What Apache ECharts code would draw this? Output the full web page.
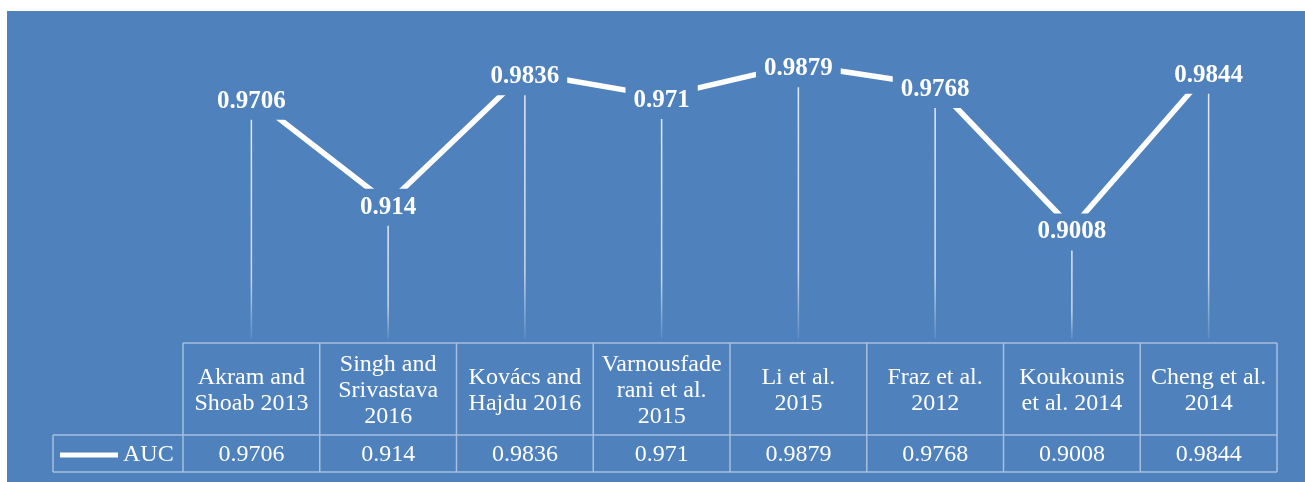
<!DOCTYPE html>
<html>
<head>
<meta charset="utf-8">
<script src="https://cdn.jsdelivr.net/npm/echarts@6/dist/echarts.min.js"></script>
<style>
  html, body { margin: 0; padding: 0; background: #ffffff; }
  #chart { width: 1305px; height: 482px; }
</style>
</head>
<body>
<div id="chart"></div>
<script>
// Studies compared (header row of the data table)
const categories = [
  'Akram and\nShoab 2013',
  'Singh and\nSrivastava\n2016',
  'Kovács and\nHajdu 2016',
  'Varnousfade\nrani et al.\n2015',
  'Li et al.\n2015',
  'Fraz et al.\n2012',
  'Koukounis\net al. 2014',
  'Cheng et al.\n2014'
];
// AUC reported by each study
const aucValues = [0.9706, 0.914, 0.9836, 0.971, 0.9879, 0.9768, 0.9008, 0.9844];
const seriesName = 'AUC';

// Layout constants
const BG = '#4f81bd';
const BORDER = '#a6bfe0';
const FONT = '"Liberation Serif", "Times New Roman", serif';
const GRID_LEFT = 183, GRID_RIGHT = 28, GRID_TOP = 42, GRID_HEIGHT = 300;
const W = 1305;
const TABLE_TOP = 343, ROW_SPLIT = 435, TABLE_BOTTOM = 472, LEGEND_LEFT = 53;
const Y_MIN = 0.84, Y_MAX = 1.0;

const chart = echarts.init(document.getElementById('chart'), null, { renderer: 'canvas' });

// Table border lines
const gridRight = W - GRID_RIGHT;
const band = (gridRight - GRID_LEFT) / categories.length;
const border = [];
const hline = (x1, x2, y) => border.push({
  type: 'line', z: 1, silent: true,
  shape: { x1: x1, y1: y, x2: x2, y2: y },
  style: { stroke: BORDER, lineWidth: 1.5 }
});
const vline = (x, y1, y2) => border.push({
  type: 'line', z: 1, silent: true,
  shape: { x1: x, y1: y1, x2: x, y2: y2 },
  style: { stroke: BORDER, lineWidth: 1.5 }
});
hline(GRID_LEFT, gridRight, TABLE_TOP);
hline(LEGEND_LEFT, gridRight, ROW_SPLIT);
hline(LEGEND_LEFT, gridRight, TABLE_BOTTOM);
vline(LEGEND_LEFT, ROW_SPLIT, TABLE_BOTTOM);
for (let k = 0; k <= categories.length; k++) {
  vline(GRID_LEFT + k * band, TABLE_TOP, TABLE_BOTTOM);
}

const option = {
  backgroundColor: '#ffffff',
  animation: false,
  graphic: [
    {
      type: 'rect', z: -10, silent: true,
      shape: { x: 7, y: 11, width: W - 7, height: 482 - 11 },
      style: { fill: BG }
    }
  ].concat(border),
  legend: {
    left: 60, top: 443, padding: 0,
    icon: 'rect', itemWidth: 58, itemHeight: 5,
    data: [seriesName],
    itemStyle: { color: '#ffffff' },
    textStyle: { color: '#ffffff', fontSize: 24, fontFamily: FONT }
  },
  grid: { left: GRID_LEFT, right: GRID_RIGHT, top: GRID_TOP, height: GRID_HEIGHT },
  xAxis: [
    {
      type: 'category', data: categories, position: 'bottom', boundaryGap: true,
      axisLine: { show: false }, axisTick: { show: false }, splitLine: { show: false },
      axisLabel: {
        interval: 0, color: '#ffffff', fontSize: 24, lineHeight: 26, fontFamily: FONT,
        verticalAlign: 'middle', margin: 49
      }
    },
    {
      type: 'category', data: aucValues.map(v => String(v)), position: 'bottom', boundaryGap: true,
      axisLine: { show: false }, axisTick: { show: false }, splitLine: { show: false },
      axisLabel: {
        interval: 0, color: '#ffffff', fontSize: 24, fontFamily: FONT,
        verticalAlign: 'middle', margin: 113
      }
    }
  ],
  yAxis: {
    type: 'value', min: Y_MIN, max: Y_MAX,
    show: false, splitLine: { show: false }
  },
  series: [
    {
      // drop lines from each point down to the category axis
      type: 'custom', name: 'drop', z: 1, silent: true,
      data: aucValues.map((v, i) => [i, v]),
      renderItem: function (params, api) {
        const top = api.coord([api.value(0), api.value(1)]);
        const base = api.coord([api.value(0), Y_MIN]);
        return {
          type: 'rect',
          shape: { x: top[0] - 0.75, y: top[1], width: 1.5, height: base[1] - top[1] - 3 },
          style: {
            fill: new echarts.graphic.LinearGradient(0, 0, 0, 1, [
              { offset: 0, color: 'rgba(255,255,255,0.85)' },
              { offset: 0.75, color: 'rgba(255,255,255,0.7)' },
              { offset: 1, color: 'rgba(255,255,255,0.08)' }
            ])
          }
        };
      }
    },
    {
      type: 'line', name: seriesName, z: 3,
      data: aucValues,
      symbol: 'circle', symbolSize: 1,
      itemStyle: { color: '#ffffff' },
      lineStyle: { color: '#ffffff', width: 5.5 },
      label: {
        show: true, position: 'inside', offset: [0, 4],
        color: '#ffffff', fontSize: 25, fontWeight: 'bold', fontFamily: FONT,
        backgroundColor: BG, padding: [6, 8]
      }
    }
  ]
};

chart.setOption(option);
</script>
</body>
</html>
